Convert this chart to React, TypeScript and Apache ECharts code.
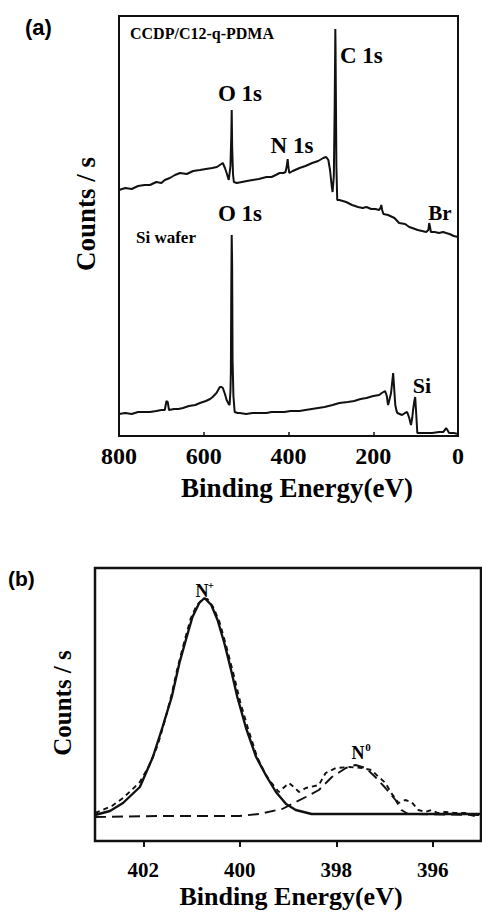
import React, { useEffect, useRef } from "react";
import * as echarts from "echarts";

// ---------- data ----------
const surveyTicks = [800, 600, 400, 200, 0];
const n1sTicks = [402, 400, 398, 396];

// [binding energy (eV), counts (arb.)]
const ccdpSurvey: [number, number][] = [
  [800, 246], [785, 248], [770, 247], [755, 250], [740, 251], [727, 251], [712, 254], [700, 253],
  [692, 256], [680, 258], [668, 261], [656, 263], [640, 262], [625, 265], [609, 266], [595, 267],
  [580, 268], [569, 269], [562, 271], [555, 273], [550, 268], [546, 263], [541, 256], [537, 270],
  [535, 300], [534, 326], [533, 290], [531, 262], [529, 254], [522, 253], [510, 254], [498, 255],
  [485, 256], [470, 257], [452, 259], [440, 259], [430, 261], [421, 263], [412, 263], [407, 264],
  [404, 270], [402, 277], [400, 268], [398, 263], [390, 265], [374, 268], [360, 270], [344, 273],
  [330, 275], [318, 278], [311, 279], [306, 276], [302, 266], [298, 250], [296, 244], [293, 260],
  [291, 330], [290, 380], [289.5, 407], [289, 390], [288, 330], [287, 270], [285, 236], [280, 236],
  [272, 235], [264, 234], [250, 231], [236, 229], [225, 228], [216, 229], [205, 227], [195, 227],
  [186, 226], [182, 229], [181, 231], [179, 226], [176, 222], [165, 221], [150, 218], [139, 213],
  [125, 212], [115, 209], [108, 208], [95, 206], [85, 205], [75, 204], [70, 206], [68, 213],
  [66, 209], [64, 204], [55, 204], [45, 203], [35, 204], [28, 203], [20, 202], [10, 200], [0, 199],
];

const siWaferSurvey: [number, number][] = [
  [800, 22], [785, 23], [770, 22], [755, 24], [740, 24], [727, 24], [712, 25], [700, 26],
  [692, 26], [688, 35], [685, 34], [682, 26], [670, 27], [660, 27], [649, 28], [635, 30],
  [620, 31], [609, 33], [595, 35], [585, 37], [579, 39], [570, 43], [562, 49], [558, 49],
  [555, 48], [550, 42], [546, 36], [541, 32], [539, 31], [537, 45], [536, 63], [535, 150],
  [534, 201], [533, 170], [532, 76], [530, 40], [527, 24], [520, 23], [515, 23], [500, 22],
  [485, 23], [470, 23], [452, 23], [440, 24], [425, 24], [410, 24], [395, 25], [374, 25],
  [360, 26], [345, 27], [330, 28], [315, 29], [296, 31], [280, 33], [260, 34], [245, 35],
  [230, 37], [216, 38], [200, 40], [186, 41], [180, 43], [172, 45], [168, 40], [165, 31],
  [162, 36], [158, 43], [155, 55], [153, 63], [151, 50], [148, 31], [145, 25], [143, 23],
  [132, 21], [125, 23], [120, 24], [115, 18], [111, 11], [108, 18], [106, 26], [103, 35],
  [101, 39], [99, 25], [96, 3], [90, 3], [80, 3], [70, 3], [61, 3], [45, 4], [35, 4],
  [31, 6], [28, 8], [25, 6], [21, 3], [10, 3], [0, 2],
];

const n1sRaw: [number, number][] = [
  [403.0, 28], [402.84, 31], [402.65, 35], [402.42, 43], [402.24, 51], [402.07, 59], [401.87, 76],
  [401.7, 96], [401.56, 119], [401.41, 147], [401.29, 173], [401.14, 201], [401.02, 222],
  [400.9, 235], [400.77, 242], [400.67, 242], [400.55, 234], [400.42, 219], [400.28, 195],
  [400.13, 167], [399.99, 139], [399.82, 111], [399.64, 84], [399.49, 69], [399.39, 61],
  [399.19, 49], [398.98, 58], [398.88, 54], [398.77, 49], [398.63, 53], [398.53, 54],
  [398.36, 56], [398.22, 68], [398.01, 73], [397.74, 74], [397.47, 73], [397.27, 71],
  [397.12, 64], [396.98, 58], [396.86, 48], [396.71, 38], [396.57, 41], [396.44, 39],
  [396.3, 31], [396.15, 29], [396.03, 31], [395.89, 28], [395.74, 29], [395.54, 28],
  [395.33, 28], [395.21, 26], [395.06, 24],
];

const n1sFitNplus: [number, number][] = [
  [403.0, 26], [402.69, 30], [402.42, 38], [402.07, 54], [401.8, 84], [401.6, 114], [401.41, 144],
  [401.25, 178], [401.1, 204], [400.98, 224], [400.84, 238], [400.73, 243], [400.59, 236],
  [400.46, 221], [400.32, 198], [400.18, 171], [400.05, 144], [399.87, 113], [399.66, 84],
  [399.45, 65], [399.25, 49], [399.04, 37], [398.84, 31], [398.51, 27], [395.0, 27],
];

const n1sFitN0: [number, number][] = [
  [403.0, 24], [401.66, 25], [400.01, 25], [399.6, 27], [399.12, 32], [398.84, 39], [398.63, 44],
  [398.36, 51], [398.09, 64], [397.8, 73], [397.6, 76], [397.39, 73], [397.19, 64], [396.98, 53],
  [396.77, 41], [396.65, 31], [396.51, 27], [395.0, 26],
];

const SERIF = '"Liberation Serif", "Times New Roman", serif';
const SANS = '"Liberation Sans", Arial, sans-serif';

function txt(
  text: string,
  x: number,
  y: number,
  size: number,
  opts: { align?: string; family?: string; rotation?: number; weight?: string } = {}
) {
  const align = opts.align || "center";
  return {
    type: "text",
    x,
    y,
    rotation: opts.rotation || 0,
    silent: true,
    style: {
      text,
      x: 0,
      y: 0,
      fill: "#000",
      fontSize: size,
      fontWeight: opts.weight || "bold",
      fontFamily: opts.family || SERIF,
      align,
      verticalAlign: "middle",
      textAlign: align,
      textVerticalAlign: "middle",
    },
  };
}

export default function App() {
  const ref = useRef<HTMLDivElement>(null);

  useEffect(() => {
    document.body.style.margin = "0";
    const chart = echarts.init(ref.current!, null, { renderer: "svg" });
    chart.setOption({
      animation: false,
      backgroundColor: "#fff",
      grid: [
        {
          left: 119,
          top: 16,
          width: 339,
          height: 420,
          show: true,
          borderColor: "#111",
          borderWidth: 2,
          backgroundColor: "transparent",
        },
        {
          left: 95,
          top: 568,
          width: 386,
          height: 273,
          show: true,
          borderColor: "#111",
          borderWidth: 2.5,
          backgroundColor: "transparent",
        },
      ],
      xAxis: [
        {
          type: "value",
          gridIndex: 0,
          min: 0,
          max: 800,
          interval: 200,
          inverse: true,
          axisLine: { show: false },
          axisTick: { show: true, inside: true, length: 4, lineStyle: { color: "#111", width: 1.5 } },
          splitLine: { show: false },
          axisLabel: {
            margin: 8,
            color: "#000",
            fontSize: 24,
            fontWeight: "bold",
            fontFamily: SERIF,
            customValues: surveyTicks,
          },
        },
        {
          type: "value",
          gridIndex: 1,
          min: 395,
          max: 403,
          inverse: true,
          axisLine: { show: false },
          axisTick: {
            show: true,
            inside: false,
            length: 6,
            customValues: n1sTicks,
            lineStyle: { color: "#111", width: 2 },
          },
          splitLine: { show: false },
          axisLabel: {
            margin: 18,
            color: "#000",
            fontSize: 21,
            fontWeight: "bold",
            fontFamily: SERIF,
            customValues: n1sTicks,
          },
        },
      ],
      yAxis: [
        {
          type: "value",
          gridIndex: 0,
          min: 0,
          max: 420,
          axisLine: { show: false },
          axisTick: { show: false },
          axisLabel: { show: false },
          splitLine: { show: false },
        },
        {
          type: "value",
          gridIndex: 1,
          min: 0,
          max: 273,
          axisLine: { show: false },
          axisTick: { show: false },
          axisLabel: { show: false },
          splitLine: { show: false },
        },
      ],
      series: [
        {
          name: "CCDP/C12-q-PDMA",
          type: "line",
          xAxisIndex: 0,
          yAxisIndex: 0,
          data: ccdpSurvey,
          showSymbol: false,
          lineStyle: { color: "#111", width: 2 },
        },
        {
          name: "Si wafer",
          type: "line",
          xAxisIndex: 0,
          yAxisIndex: 0,
          data: siWaferSurvey,
          showSymbol: false,
          lineStyle: { color: "#111", width: 2 },
        },
        {
          name: "N0 fit",
          type: "line",
          xAxisIndex: 1,
          yAxisIndex: 1,
          data: n1sFitN0,
          showSymbol: false,
          lineStyle: { color: "#111", width: 1.9, type: [11, 6] },
        },
        {
          name: "raw",
          type: "line",
          xAxisIndex: 1,
          yAxisIndex: 1,
          data: n1sRaw,
          showSymbol: false,
          lineStyle: { color: "#111", width: 1.9, type: [5, 4] },
        },
        {
          name: "N+ fit",
          type: "line",
          xAxisIndex: 1,
          yAxisIndex: 1,
          data: n1sFitNplus,
          showSymbol: false,
          lineStyle: { color: "#111", width: 2.4 },
        },
      ],
      graphic: [
        txt("(a)", 25, 27, 22, { align: "left", family: SANS }),
        txt("(b)", 8, 578, 21, { align: "left", family: SANS }),
        txt("CCDP/C12-q-PDMA", 130, 33, 16, { align: "left" }),
        txt("C 1s", 340, 55, 23, { align: "left" }),
        txt("O 1s", 240, 93, 23),
        txt("N 1s", 292, 145, 23),
        txt("Br", 440, 213, 21),
        txt("Si wafer", 136, 237, 17, { align: "left" }),
        txt("O 1s", 240, 213, 23),
        txt("Si", 422, 385, 22),
        txt("Counts / s", 86, 214, 27, { rotation: Math.PI / 2 }),
        txt("Binding Energy(eV)", 297, 488, 27),
        txt("N", 202, 591, 18),
        txt("+", 211, 585, 11),
        txt("N", 358, 753, 18),
        txt("0", 368, 747, 11),
        txt("Counts / s", 62, 703, 25, { rotation: Math.PI / 2 }),
        txt("Binding Energy(eV)", 291, 896, 26),
      ],
    });
    return () => chart.dispose();
  }, []);

  return <div ref={ref} style={{ width: 482, height: 919, background: "#fff" }} />;
}
